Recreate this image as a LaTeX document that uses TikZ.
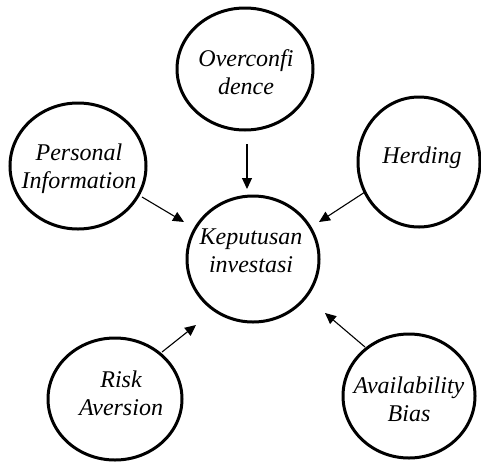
\documentclass[tikz,border=0pt]{standalone}
\usepackage{fontspec}
\setmainfont{Liberation Serif}
\usetikzlibrary{shapes.geometric,arrows.meta}
\tikzset{
  bubble/.style={ellipse, draw, line width=3pt, inner sep=0pt},
  txt/.style={inner sep=0pt, align=center, font=\fontsize{24}{28}\selectfont\itshape},
  link/.style={-{Triangle[length=11pt,width=10pt]}, line width=1.1pt}
}
\begin{document}
\begin{tikzpicture}[x=1pt,y=-1pt]
\useasboundingbox (0,0) rectangle (481,461);
\node[bubble, minimum width=136pt, minimum height=122pt] (over) at (245,69) {};
\node[txt] (over-t) at (246,72) {Overconfi\\dence};
\node[bubble, minimum width=136pt, minimum height=126pt] (pers) at (78,166) {};
\node[txt] (pers-t) at (79,169) {Personal\\Information};
\node[bubble, minimum width=122pt, minimum height=130pt] (herd) at (419,162) {};
\node[txt] (herd-t) at (422,158) {Herding};
\node[bubble, minimum width=132pt, minimum height=126pt] (cent) at (253,259) {};
\node[txt] (cent-t) at (251,251) {Keputusan\\investasi};
\node[bubble, minimum width=134pt, minimum height=122pt] (risk) at (115,399) {};
\node[txt] (risk-t) at (121,393) {Risk\\Aversion};
\node[bubble, minimum width=132pt, minimum height=124pt] (avail) at (409,396) {};
\node[txt] (avail-t) at (409,399) {Availability\\Bias};
\coordinate (o1) at (247,144); \coordinate (o2) at (247,189);
\coordinate (p1) at (142,197); \coordinate (p2) at (184,222);
\coordinate (h1) at (365,192); \coordinate (h2) at (319,222);
\coordinate (r1) at (162,352); \coordinate (r2) at (196,325);
\coordinate (a1) at (365,347); \coordinate (a2) at (325,313);
\draw[link] (o1) -- (o2);
\draw[link] (p1) -- (p2);
\draw[link] (h1) -- (h2);
\draw[link] (r1) -- (r2);
\draw[link] (a1) -- (a2);
\end{tikzpicture}
\end{document}
